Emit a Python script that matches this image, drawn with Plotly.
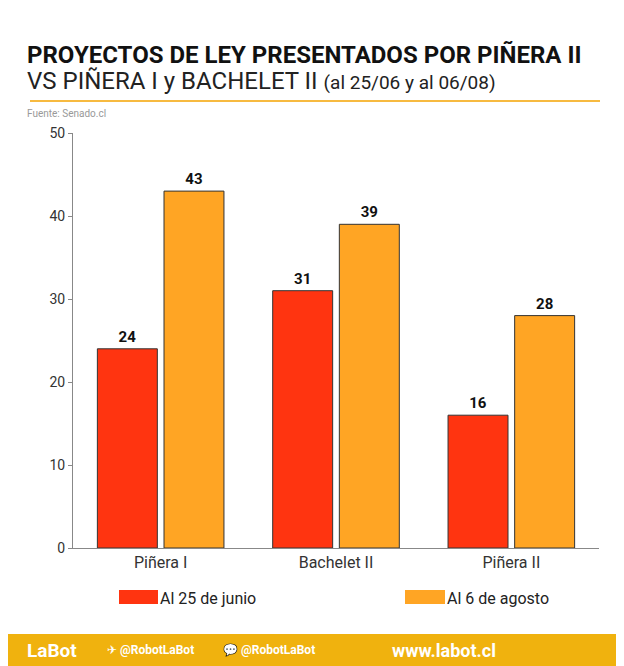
import plotly.graph_objects as go

categories = ["Piñera I", "Bachelet II", "Piñera II"]
junio = [24, 31, 16]
agosto = [43, 39, 28]

fig = go.Figure()
fig.add_bar(x=categories, y=junio, name="Al 25 de junio", marker=dict(color="#FF3410", line=dict(color="#333", width=1)),
            text=[f"<b>{v}</b>" for v in junio], textposition="outside", textfont=dict(family="Roboto", size=15, color="#111"))
fig.add_bar(x=categories, y=agosto, name="Al 6 de agosto", marker=dict(color="#FFA524", line=dict(color="#333", width=1)),
            text=[f"<b>{v}</b>" for v in agosto], textposition="outside", textfont=dict(family="Roboto", size=15, color="#111"))

W, H = 624, 666
DX, DY = 3, 8
L, R, T, B = 65, 33, 125, 126
def px(x): return (x - DX - L) / (W - L - R)
def py(y): return (H - B - (y - DY)) / (H - T - B)

shapes = [
    dict(type="line", xref="paper", yref="paper", x0=px(25), x1=px(595), y0=py(101), y1=py(101), line=dict(color="#F5A300", width=1.5)),
    dict(type="rect", xref="paper", yref="paper", x0=px(-10), x1=px(640), y0=py(680), y1=py(634), fillcolor="#F0B20E", line=dict(width=0), layer="below"),
    dict(type="rect", xref="paper", yref="paper", x0=px(114), x1=px(153), y0=py(604), y1=py(590), fillcolor="#FF3410", line=dict(width=0)),
    dict(type="rect", xref="paper", yref="paper", x0=px(400), x1=px(440), y0=py(604), y1=py(590), fillcolor="#FFA524", line=dict(width=0)),
]
ann = [
    dict(x=px(20), y=py(55), text="<b>PROYECTOS DE LEY PRESENTADOS POR PIÑERA II</b>", font=dict(size=24, color="#111", family="Roboto")),
    dict(x=px(20), y=py(81), text="VS PIÑERA I y BACHELET II <span style='font-size:19px'>(al 25/06 y al 06/08)</span>", font=dict(size=24, color="#222", family="Roboto")),
    dict(x=px(20), y=py(113), text="Fuente: Senado.cl", font=dict(size=10, color="#999", family="Roboto")),
    dict(x=px(153), y=py(598), text="Al 25 de junio", font=dict(size=16, color="#222", family="Roboto")),
    dict(x=px(440), y=py(598), text="Al 6 de agosto", font=dict(size=16, color="#222", family="Roboto")),
    dict(x=px(20), y=py(650), text="<b>LaBot</b>", font=dict(size=19, color="white", family="Roboto")),
    dict(x=px(100), y=py(650), text="✈ <b>@RobotLaBot</b>", font=dict(size=12, color="white", family="Roboto")),
    dict(x=px(216), y=py(650), text="💬 <b>@RobotLaBot</b>", font=dict(size=12, color="white", family="Roboto")),
    dict(x=px(385), y=py(650), text="<b>www.labot.cl</b>", font=dict(size=18, color="white", family="Roboto")),
]
for a in ann:
    a.update(xref="paper", yref="paper", xanchor="left", yanchor="middle", showarrow=False)

fig.update_layout(
    width=W, height=H, margin=dict(l=L, r=R, t=T, b=B),
    paper_bgcolor="white", plot_bgcolor="white", showlegend=False,
    barmode="group", bargap=0.24, bargroupgap=0.1,
    font=dict(family="Roboto", size=15, color="#222"),
    shapes=shapes, annotations=ann,
    xaxis=dict(range=[-0.5, 2.5], showline=True, linecolor="#888", ticks="", tickfont=dict(size=16, color="#333")),
    yaxis=dict(range=[0, 50], dtick=10, showline=True, linecolor="#888", showgrid=False, ticks="outside",
               ticklen=4, tickcolor="#888", tickfont=dict(size=14, color="#333"), zeroline=False),
)
fig.write_html("out.html")
